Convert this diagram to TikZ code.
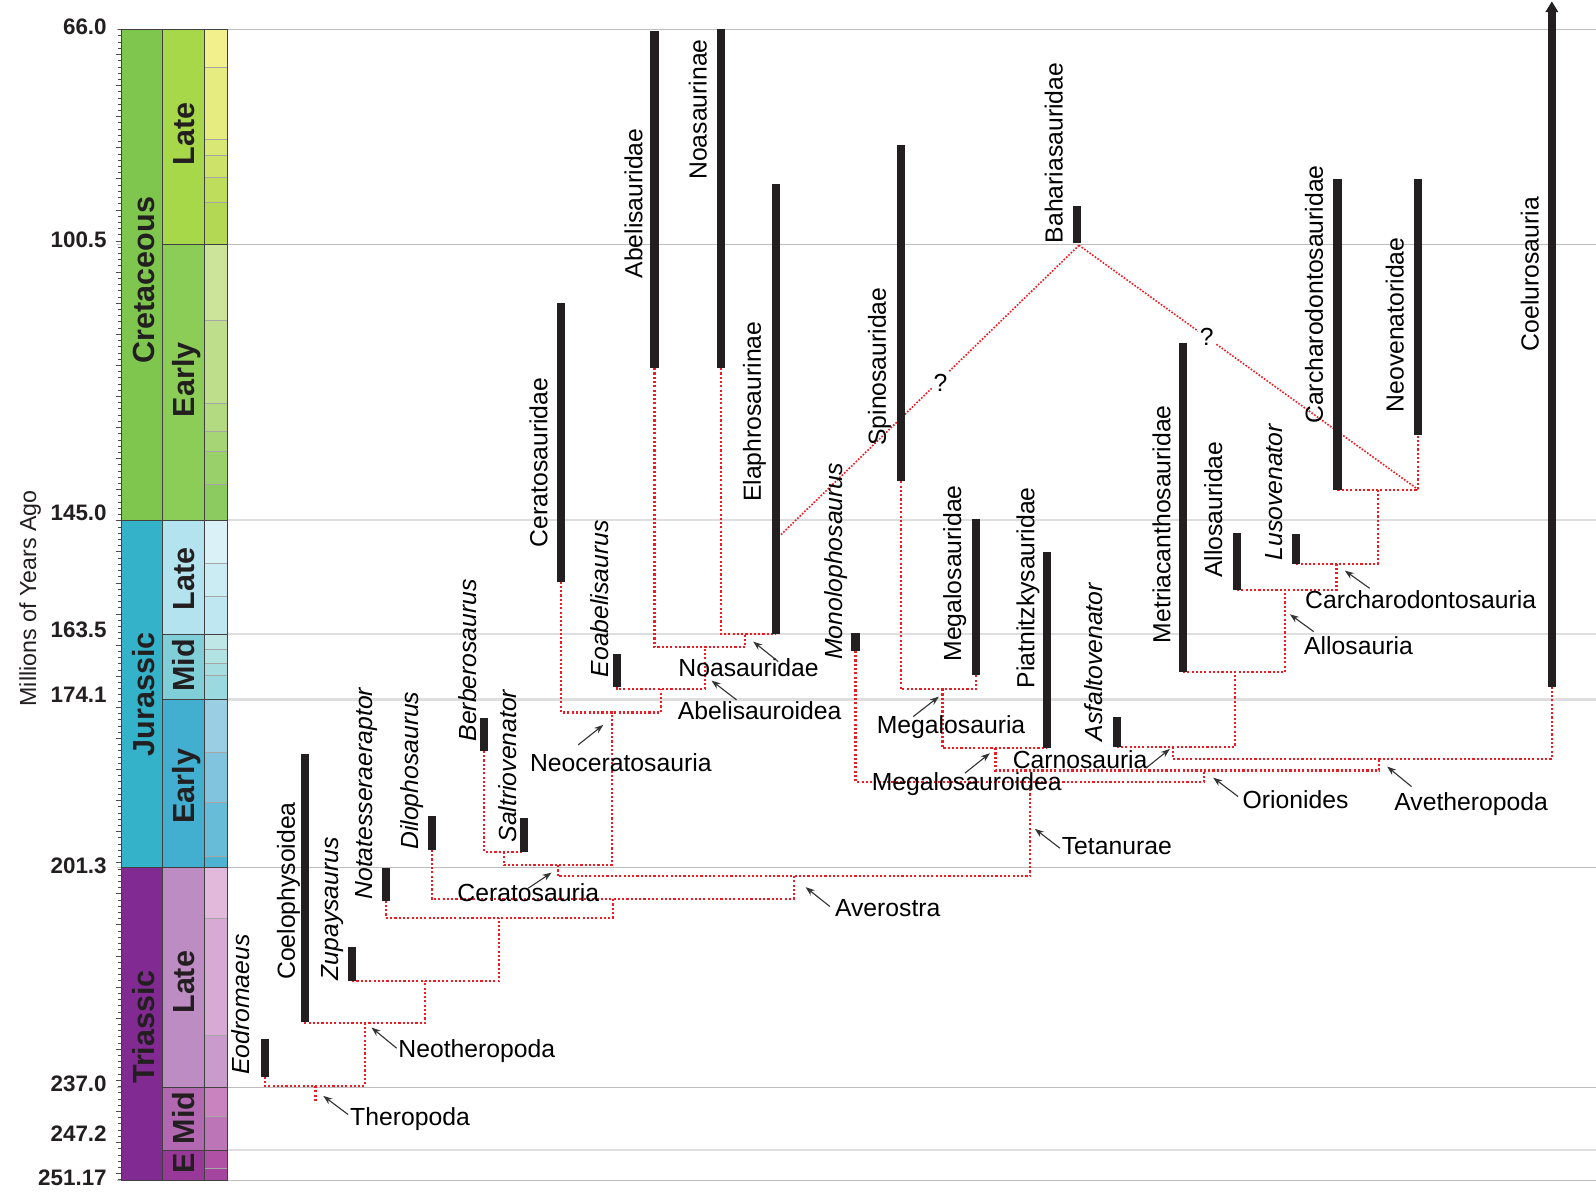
\documentclass[tikz,border=0pt]{standalone}
\usepackage{fontspec}
\setmainfont{Liberation Sans}
\usetikzlibrary{arrows.meta,calc}
\definecolor{barblack}{HTML}{231F20}
\definecolor{treered}{HTML}{ED1C24}
\definecolor{ptrgray}{HTML}{333333}
\definecolor{gridthinc}{HTML}{BDBDBD}
\definecolor{gridthickc}{HTML}{DEDEDE}
\definecolor{pCret}{HTML}{7FC64E}
\definecolor{pJur}{HTML}{34B2C9}
\definecolor{pTri}{HTML}{812B92}
\definecolor{eKL}{HTML}{A6D84A}
\definecolor{eKE}{HTML}{8CCD57}
\definecolor{eJL}{HTML}{B3E3EE}
\definecolor{eJM}{HTML}{80CFD8}
\definecolor{eJE}{HTML}{42AED0}
\definecolor{eTL}{HTML}{BD8CC3}
\definecolor{eTM}{HTML}{B168B1}
\definecolor{eTE}{HTML}{983999}
\begin{document}
\begin{tikzpicture}[x=1pt,y=-1pt,
  thbar/.style={draw=barblack,line width=8pt},
  redlink/.style={draw=treered,line width=2.1pt,dash pattern=on 2.1pt off 2.1pt},
  diaglink/.style={draw=treered,line width=1.6pt,dash pattern=on 1.6pt off 1.6pt},
  lbl/.style={inner sep=0pt,text=black,font=\fontsize{24.3}{28}\selectfont},
  vlbl/.style={lbl,rotate=90,anchor=base west},
  vilbl/.style={vlbl,font=\fontsize{24.3}{28}\selectfont\itshape},
  hlbl/.style={lbl,anchor=base west},
  ptr/.style={draw=ptrgray,line width=1.1pt,-{Stealth[length=9pt,width=6.5pt]}},
  qmark/.style={lbl,fill=white,inner sep=2pt},
  collbl/.style={inner sep=0pt,rotate=90,anchor=base,text=barblack,font=\fontsize{30}{32}\selectfont\bfseries},
  agelbl/.style={inner sep=0pt,anchor=base east,text=barblack,font=\fontsize{22}{24}\selectfont\bfseries},
  gridthin/.style={draw=gridthinc,line width=1pt},
  gridthick/.style={draw=gridthickc,line width=2.5pt},
  colborder/.style={draw=black!75,line width=0.8pt}
]
\useasboundingbox (0,0) rectangle (1568,1177);
\fill[white] (0,0) rectangle (1568,1177);

% ---------------- grid lines
\foreach \yy in {29,240,852,1068,1160} \draw[gridthin] (115,\yy) -- (1568,\yy);
\foreach \yy in {511,623,687,1130} \draw[gridthick] (119,\yy) -- (1568,\yy);

% ---------------- time scale columns
\fill[pCret] (119,29) rectangle (160,511);
\fill[pJur] (119,511) rectangle (160,852);
\fill[pTri] (119,852) rectangle (160,1160);
\fill[eKL] (160,29) rectangle (201,240);
\fill[eKE] (160,240) rectangle (201,511);
\fill[eJL] (160,511) rectangle (201,623);
\fill[eJM] (160,623) rectangle (201,687);
\fill[eJE] (160,687) rectangle (201,852);
\fill[eTL] (160,852) rectangle (201,1068);
\fill[eTM] (160,1068) rectangle (201,1130);
\fill[eTE] (160,1130) rectangle (201,1160);
\foreach \ya/\yb/\cc in {29/66.5/F2F08C,66.5/136.5/E6EC7F,136.5/152.3/D9E774,152.3/174/CCE268,174/198.5/BFDD5D,198.5/240/B3D853,
  240/314.7/CCE39A,314.7/396.6/BFDE8C,396.6/423.7/B3DA80,423.7/442.9/A6D575,442.9/475.6/99D06A,475.6/511/8CCB60,
  511/553/D9F1F7,553/585.3/CCECF4,585.3/623/BFE7F1,
  623/638.3/BFE7E5,638.3/651.9/B3E2E3,651.9/663.5/A6DDE0,663.5/687/9AD9DD,
  687/738.9/99CEE3,738.9/788.5/80C5DD,788.5/840.8/67BCD8,840.8/852/4EB3D3,
  852/902/E3B9DB,902/1017/D6AAD3,1017/1068/C99BCB,
  1068/1096.3/C983BF,1096.3/1130/BC75B7,
  1130/1148/B051A5,1148/1160/A4469F}
  {\definecolor{tmpstage}{HTML}{\cc}\fill[tmpstage] (201,\ya) rectangle (223,\yb);}
\foreach \yy in {66.5,136.5,152.3,174,198.5,314.7,396.6,423.7,442.9,475.6,553,585.3,638.3,651.9,663.5,738.9,788.5,840.8,902,1017,1096.3,1148}
  \draw[black!35,line width=0.5pt] (201,\yy) -- (223,\yy);
\draw[colborder] (119,29) rectangle (223,1160);
\draw[colborder] (160,29) -- (160,1160);
\draw[colborder] (201,29) -- (201,1160);
\foreach \yy in {511,852} \draw[colborder] (119,\yy) -- (223,\yy);
\foreach \yy in {240,623,687,1068,1130} \draw[colborder] (160,\yy) -- (223,\yy);
% ticks
\foreach \m in {66,...,251} \draw[black!70,line width=0.6pt] (116,{29+(\m-66)*6.108}) -- (119,{29+(\m-66)*6.108});
\foreach \m in {70,75,...,250} \draw[black!70,line width=0.6pt] (113.5,{29+(\m-66)*6.108}) -- (119,{29+(\m-66)*6.108});

% column labels
\node[collbl] (cret) at (151.5,275) {Cretaceous};
\node[collbl] (jur) at (151.5,682) {Jurassic};
\node[collbl] (tri) at (151.5,1009) {Triassic};
\node[collbl] (klate) at (191,131.5) {Late};
\node[collbl] (kearly) at (191,373) {Early};
\node[collbl] (jlate) at (191,569) {Late};
\node[collbl] (jmid) at (191,653.5) {Mid};
\node[collbl] (jearly) at (191,772.5) {Early};
\node[collbl] (tlate) at (191,965) {Late};
\node[collbl] (tmid) at (191,1098.5) {Mid};
\node[collbl] (tearly) at (191,1142.5) {E};

% age labels
\node[agelbl] (a66) at (105,34) {66.0};
\node[agelbl] (a100) at (105,243) {100.5};
\node[agelbl] (a145) at (105,511) {145.0};
\node[agelbl] (a163) at (105,626) {163.5};
\node[agelbl] (a174) at (105,690) {174.1};
\node[agelbl] (a201) at (105,858) {201.3};
\node[agelbl] (a237) at (105,1072) {237.0};
\node[agelbl] (a247) at (105,1121) {247.2};
\node[agelbl] (a251) at (105,1165) {251.17};
\node[inner sep=0pt,rotate=90,anchor=base,text=barblack,font=\fontsize{22.8}{26}\selectfont] (ytitle) at (35.5,588) {Millions of Years Ago};

% ---------------- bar coordinates
\coordinate (eodT) at (260,1020.6); \coordinate (eodB) at (260,1058);
\coordinate (coeT) at (300,740.7); \coordinate (coeB) at (300,1004);
\coordinate (zupT) at (346,930.6); \coordinate (zupB) at (346,963.7);
\coordinate (notT) at (379,852.3); \coordinate (notB) at (379,884.8);
\coordinate (dilT) at (424,801.6); \coordinate (dilB) at (424,835);
\coordinate (berT) at (475.8,705); \coordinate (berB) at (475.8,737.7);
\coordinate (salT) at (514.7,803.9); \coordinate (salB) at (514.7,837);
\coordinate (cerT) at (551.5,297.7); \coordinate (cerB) at (551.5,571.4);
\coordinate (eoaT) at (605.8,642.4); \coordinate (eoaB) at (605.8,675.2);
\coordinate (abeT) at (643,30.8); \coordinate (abeB) at (643,361.7);
\coordinate (noaT) at (708,28.6); \coordinate (noaB) at (708,361.7);
\coordinate (elaT) at (762.2,181.2); \coordinate (elaB) at (762.2,623);
\coordinate (monT) at (840.5,622); \coordinate (monB) at (840.5,639.5);
\coordinate (spiT) at (884.8,142.1); \coordinate (spiB) at (884.8,472.9);
\coordinate (bahT) at (1058,202.3); \coordinate (bahB) at (1058,239.1);
\coordinate (megT) at (959,509.4); \coordinate (megB) at (959,663);
\coordinate (piaT) at (1028.5,542.5); \coordinate (piaB) at (1028.5,735);
\coordinate (asfT) at (1097.1,704); \coordinate (asfB) at (1097.1,733.5);
\coordinate (metT) at (1162.2,336.5); \coordinate (metB) at (1162.2,660.5);
\coordinate (allT) at (1215.3,523.9); \coordinate (allB) at (1215.3,580);
\coordinate (lusT) at (1273.5,524.9); \coordinate (lusB) at (1273.5,554);
\coordinate (carT) at (1314,176); \coordinate (carB) at (1314,481);
\coordinate (neoT) at (1393.3,176); \coordinate (neoB) at (1393.3,427.5);
\coordinate (coeluT) at (1524.6,11); \coordinate (coeluB) at (1524.6,675);
\coordinate (coeluTip) at (1524.6,1.5);

% ---------------- clade junctions
\coordinate (TH) at (310,1067); \coordinate (THs) at (310,1082);
\coordinate (NT) at (358.6,1005);
\coordinate (N2) at (417.5,963.7);
\coordinate (N3) at (490.5,901.5);
\coordinate (N4) at (602.5,883);
\coordinate (AV) at (780,861);
\coordinate (CE) at (548,850);
\coordinate (BS) at (495,837);
\coordinate (NC) at (601,700);
\coordinate (AB) at (649,677);
\coordinate (A2) at (692.5,636);
\coordinate (NO) at (732,623);
\coordinate (TE) at (1012,768);
\coordinate (OR) at (1183,757);
\coordinate (MG) at (978,735);
\coordinate (MA) at (926,677);
\coordinate (AT) at (1355,745.5);
\coordinate (CA) at (1152,733.5);
\coordinate (C2) at (1213.7,660.5);
\coordinate (AL) at (1262.7,580);
\coordinate (CC) at (1313,554);
\coordinate (C3) at (1354,481);
\coordinate (C3r) at (1393.3,481);
\coordinate (bahJ) at (1060,241);
\coordinate (elaR) at (766.2,526.3);

% ---------------- tree links
\draw[redlink] (eodB) |- (TH) -| (NT);
\draw[redlink] (TH) -- (THs);
\draw[redlink] (coeB) |- (NT) -| (N2);
\draw[redlink] (zupB) |- (N2) -| (N3);
\draw[redlink] (notB) |- (N3) -| (N4);
\draw[redlink] (dilB) |- (N4) -| (AV);
\draw[redlink] (CE) |- (AV) -| (TE);
\draw[redlink] (BS) |- (CE) -| (NC);
\draw[redlink] (berB) |- (BS) -| (salB);
\draw[redlink] (cerB) |- (NC) -| (AB);
\draw[redlink] (eoaB) |- (AB) -| (A2);
\draw[redlink] (abeB) |- (A2) -| (NO);
\draw[redlink] (noaB) |- (NO) -| (elaB);
\draw[redlink] (monB) |- (TE) -| (OR);
\draw[redlink] (MG) |- (OR) -| (AT);
\draw[redlink] (MA) |- (MG) -| (piaB);
\draw[redlink] (spiB) |- (MA) -| (megB);
\draw[redlink] (CA) |- (AT) -| (coeluB);
\draw[redlink] (asfB) |- (CA) -| (C2);
\draw[redlink] (metB) |- (C2) -| (AL);
\draw[redlink] (allB) |- (AL) -| (CC);
\draw[redlink] (lusB) |- (CC) -| (C3);
\draw[redlink] (carB) |- (C3) -| (neoB);

% uncertain placements of Bahariasauridae
\draw[diaglink] (bahJ) -- (elaR);
\draw[diaglink] (bahJ) -- (C3r);
\node[qmark] (q1) at (924,376) {?};
\node[qmark] (q2) at (1185.5,331) {?};

% ---------------- range bars
\foreach \b in {eod,coe,zup,not,dil,ber,sal,cer,eoa,abe,noa,ela,mon,spi,bah,meg,pia,asf,met,all,lus,car,neo,coelu}
  \draw[thbar] (\b T) -- (\b B);
\fill[barblack] ($(coeluT)+(-6.5,1)$) -- (coeluTip) -- ($(coeluT)+(6.5,1)$) -- cycle;

% ---------------- vertical taxon labels
\node[vilbl] (Leod) at (245.1,1056) {Eodromaeus};
\node[vlbl] (Lcoe) at (289.7,962.7) {Coelophysoidea};
\node[vilbl] (Lzup) at (332.7,963.3) {Zupaysaurus};
\node[vilbl] (Lnot) at (366.3,884) {Notatesseraeraptor};
\node[vilbl] (Ldil) at (411.5,835) {Dilophosaurus};
\node[vilbl] (Lber) at (468.1,728.6) {Berberosaurus};
\node[vilbl] (Lsal) at (507.1,827.8) {Saltriovenator};
\node[vlbl] (Lcer) at (537.7,537.6) {Ceratosauridae};
\node[vilbl] (Leoa) at (598.1,665.4) {Eoabelisaurus};
\node[vlbl] (Labe) at (631.1,273.7) {Abelisauridae};
\node[vlbl] (Lnoa) at (694.2,176.7) {Noasaurinae};
\node[vlbl] (Lela) at (747.4,493.2) {Elaphrosaurinae};
\node[vilbl] (Lmon) at (827.3,648.3) {Monolophosaurus};
\node[vlbl] (Lspi) at (870.2,438) {Spinosauridae};
\node[vlbl] (Lbah) at (1043.9,239) {Bahariasauridae};
\node[vlbl] (Lmeg) at (944.2,650) {Megalosauridae};
\node[vlbl] (Lpia) at (1016.2,676.2) {Piatnitzkysauridae};
\node[vilbl] (Lasf) at (1082.7,728.6) {Asfaltovenator};
\node[vlbl] (Lmet) at (1149.8,632) {Metriacanthosauridae};
\node[vlbl] (Lall) at (1200.6,567.7) {Allosauridae};
\node[vilbl] (Llus) at (1259.5,550.7) {Lusovenator};
\node[vlbl] (Lcar) at (1299.7,416.5) {Carcharodontosauridae};
\node[vlbl] (Lneo) at (1379.1,405.3) {Neovenatoridae};
\node[vlbl] (Lcoel) at (1511.7,345.1) {Coelurosauria};

% ---------------- clade labels
\node[hlbl] (Ctheropoda) at (343.8,1105.7) {Theropoda};
\node[hlbl] (Cneotheropoda) at (391.3,1038.7) {Neotheropoda};
\node[hlbl] (Cceratosauria) at (449.2,885.3) {Ceratosauria};
\node[hlbl] (Cneocerato) at (520.6,757.7) {Neoceratosauria};
\node[hlbl] (Caverostra) at (820.2,900.7) {Averostra};
\node[hlbl] (Cabelisauroidea) at (665.7,707.1) {Abelisauroidea};
\node[hlbl] (Cnoasauridae) at (666.3,664.2) {Noasauridae};
\node[hlbl] (Cmegalosauria) at (861.2,720.9) {Megalosauria};
\node[hlbl] (Cmegalosauroidea) at (856.3,776.5) {Megalosauroidea};
\node[hlbl] (Ccarnosauria) at (994.8,755.3) {Carnosauria};
\node[hlbl] (Ctetanurae) at (1043,839.4) {Tetanurae};
\node[hlbl] (Corionides) at (1220.7,793.9) {Orionides};
\node[hlbl] (Cavetheropoda) at (1369.7,796.2) {Avetheropoda};
\node[hlbl] (Callosauria) at (1281.1,642.9) {Allosauria};
\node[hlbl] (Ccarcharo) at (1282.1,597.4) {Carcharodontosauria};

% ---------------- pointer arrows
\coordinate (p1s) at (342,1095); \coordinate (p1e) at (317.6,1076.7);
\coordinate (p2s) at (389.7,1029.8); \coordinate (p2e) at (365,1009.5);
\coordinate (p3s) at (519,872.6); \coordinate (p3e) at (541.9,857.3);
\coordinate (p4s) at (568,731.8); \coordinate (p4e) at (592.7,712.2);
\coordinate (p5s) at (815.3,890.6); \coordinate (p5e) at (791.5,871.6);
\coordinate (p6s) at (723.6,687.6); \coordinate (p6e) at (699,668.6);
\coordinate (p7s) at (764.6,650); \coordinate (p7e) at (740,630.3);
\coordinate (p8s) at (897.2,704); \coordinate (p8e) at (922.4,684.4);
\coordinate (p9s) at (948,759.6); \coordinate (p9e) at (972.5,740);
\coordinate (p10s) at (1125.7,754.7); \coordinate (p10e) at (1149.3,735.8);
\coordinate (p11s) at (1041.3,833.3); \coordinate (p11e) at (1016.7,814.3);
\coordinate (p12s) at (1216.4,782.6); \coordinate (p12e) at (1191.9,764);
\coordinate (p13s) at (1386.7,772.8); \coordinate (p13e) at (1362.8,753.1);
\coordinate (p14s) at (1290.6,620.5); \coordinate (p14e) at (1267.2,603.5);
\coordinate (p15s) at (1345.6,578); \coordinate (p15e) at (1321.2,560.6);
\foreach \i in {1,...,15} \draw[ptr] (p\i s) -- (p\i e);
\end{tikzpicture}
\end{document}
